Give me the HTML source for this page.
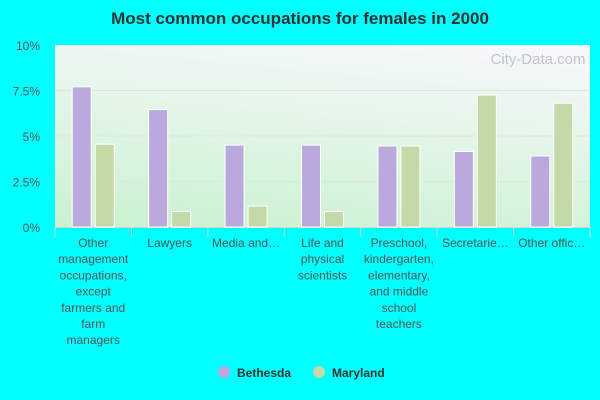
<!DOCTYPE html>
<html><head><meta charset="utf-8"><style>
body{margin:0;background:#00ffff;font-family:"Liberation Sans",sans-serif;}
svg{display:block}
</style></head><body>
<svg id="chart" width="600" height="400">
<defs>
<linearGradient id="bg" x1="0" y1="1" x2="0.35" y2="-0.2">
<stop offset="0" stop-color="#c9f2cf"/><stop offset="1" stop-color="#f8f8fc"/>
</linearGradient>
</defs>
<text x="300" y="24" text-anchor="middle" font-size="17" font-weight="bold" fill="#333">Most common occupations for females in 2000</text>
<rect x="55" y="45" width="535" height="182" fill="url(#bg)"/>
<text x="538" y="64" text-anchor="middle" font-size="15" fill="#b4b8c0" opacity="0.8">City-Data.com</text>
<g id="grid"></g><g id="bars"></g><g id="xlabels"></g>
<g>
<circle cx="224" cy="372" r="6" fill="#bba8dc"/>
<text x="237" y="377" font-size="12" font-weight="bold" fill="#333">Bethesda</text>
<circle cx="319" cy="372" r="6" fill="#c4d9a8"/>
<text x="332" y="377" font-size="12" font-weight="bold" fill="#333">Maryland</text>
</g>
</svg>
<script>
const categories=[["Other","management","occupations,","except","farmers and","farm","managers"],["Lawyers"],["Media and…"],["Life and","physical","scientists"],["Preschool,","kindergarten,","elementary,","and middle","school","teachers"],["Secretarie…"],["Other offic…"]];
const bethesda=[7.7,6.45,4.5,4.5,4.45,4.15,3.9];
const maryland=[4.55,0.85,1.15,0.85,4.45,7.25,6.8];
const ticks=[0,2.5,5,7.5,10];
const tickLabels=["0%","2.5%","5%","7.5%","10%"];
const NS="http://www.w3.org/2000/svg";
const L=55,R=590,T=45,B=227,MAX=10;
const y=v=>B-(v/MAX)*(B-T);
const bw=(R-L)/categories.length;
const x=i=>L+i*bw;
function mk(p,tag,a){const e=document.createElementNS(NS,tag);for(const k in a)e.setAttribute(k,a[k]);document.getElementById(p).appendChild(e);return e;}
ticks.forEach((t,i)=>{
 if(t>0&&t<MAX){const g=mk('grid','line',{x1:L,x2:R,y1:y(t),y2:y(t),stroke:'#dde8dd','stroke-width':1});
 
 }
 const tx=mk('grid','text',{x:40,y:y(t)+5,'text-anchor':'end','font-size':12,fill:'#555'});
 tx.textContent=tickLabels[i];
 
 
});
const ax=mk('grid','line',{x1:L,x2:R,y1:B+0.5,y2:B+0.5,stroke:'#d0d8d0'});


for(let i=0;i<=categories.length;i++){
 const tk=mk('grid','line',{x1:x(i),x2:x(i),y1:B,y2:B+10,stroke:'#d0e0e0'});
 
 
}
categories.forEach((c,i)=>{
 const cx=x(i)+bw/2;
 const b1=mk('bars','rect',{x:cx-21,y:y(bethesda[i]),width:19,height:B-y(bethesda[i]),fill:'#bba8dc',stroke:'#fff','stroke-width':1});
 
 
 const b2=mk('bars','rect',{x:cx+2,y:y(maryland[i]),width:19,height:B-y(maryland[i]),fill:'#c4d9a8',stroke:'#fff','stroke-width':1});
 
 
 c.forEach((ln,j)=>{
  const t=mk('xlabels','text',{x:cx,y:247+j*16.2,'text-anchor':'middle','font-size':12,fill:'#555'});
  t.textContent=ln;
  
  
 });
});
</script>
</body></html>
